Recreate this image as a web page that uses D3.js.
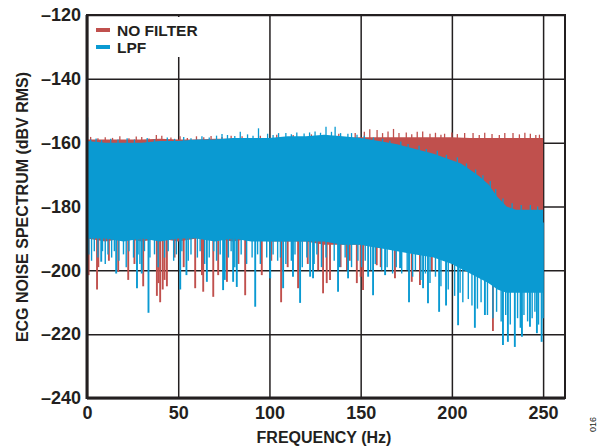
<!DOCTYPE html>
<html>
<head>
<meta charset="utf-8">
<script src="https://cdn.jsdelivr.net/npm/d3@7/dist/d3.min.js"></script>
<style>
  body { margin: 0; background: #fff; }
  text { font-family: "Liberation Sans", Arial, sans-serif; font-weight: bold; fill: #231f20; }
</style>
</head>
<body>
<script>
"use strict"

// frequency ticks and level ticks
const xTicks = [0, 50, 100, 150, 200, 250];
const yTicks = [-120, -140, -160, -180, -200, -220, -240];

// NO FILTER: dense band envelope
const redFreq = [0, 10, 20, 30, 40, 50, 60, 70, 80, 90, 100, 110, 120, 130, 140, 150, 160, 170, 180, 190, 200, 210, 220, 230, 240, 250];
const redTop = [-159, -159, -159, -159, -158.8, -159, -159, -158.8, -158.8, -158.8, -158.5, -158.5, -158.5, -158.5, -158.5, -158.3, -158.3, -158.3, -158.3, -158.3, -158.3, -158.5, -158.5, -158.5, -158.5, -158.5];
const redBottom = [-190, -191, -190, -191, -190, -191, -190, -190, -191, -190, -191, -191, -191, -192, -192, -192, -193, -193, -194, -194, -195, -198, -200, -202, -202, -202];
// NO FILTER: downward spikes [Hz, dBV]
const redSpikes = [[0.9, -201.5], [5.5, -206], [6.2, -199], [17.1, -200.5], [22.6, -203], [30.8, -205], [38.3, -208],
  [40.1, -210], [43.8, -205], [59.3, -205.6], [63, -201.5], [63.7, -206.7], [69.2, -208.3], [71.9, -201.5], [76.7, -203.6],
  [86.7, -207.8], [95.8, -201.5], [106.4, -210], [115.7, -205.6], [126.7, -200], [129.4, -207.2], [131.4, -204], [133.2, -203],
  [147.9, -204], [151.3, -206.2], [158.8, -198.4], [168.8, -202.5], [178, -203.6], [182.5, -204.6], [222.5, -219],
  [12, -197], [26, -198], [48, -196], [53, -199], [83, -198], [101, -197], [110, -199], [121, -198], [139, -199], [144, -197],
  [39.2, -204], [41.5, -206], [42.5, -203], [142.5, -200], [150, -202], [161, -199], [189, -200]];
// NO FILTER: upward tips [Hz, dBV]
const redTips = [[2, -158.2], [6, -158.6], [10, -158.3], [14, -158.5], [18, -158], [23, -158.6], [27, -158.1], [30, -158.2],
  [34, -158.7], [38, -157.6], [41, -157.8], [46, -158.4], [51, -158], [55, -158.5], [60, -158], [64, -158.3], [68, -157.9],
  [74, -158.2], [79, -157.8], [85, -158], [95, -157.8], [104, -157.5], [113, -157.6], [123, -157.4], [138, -157.2], [147, -157],
  [152, -156.6], [155, -155.8], [159, -156], [162, -157], [165, -156.5], [168, -155.7], [171, -157], [175, -156.8], [178, -157.4],
  [181, -156.6], [184, -156.5], [188, -157.2], [191, -156.9], [194, -157.5], [196, -157.2], [200, -156.8], [203, -157.3],
  [207, -157], [211.6, -157], [215, -157.6], [218, -156.9], [222, -157.3], [226, -157.6], [229, -157], [233.5, -157],
  [237, -157.4], [240, -156.9], [243, -157.2], [246, -157.6], [248, -157.5]];

// LPF: dense band envelope
const blueFreq = [0, 10, 20, 30, 40, 50, 60, 70, 80, 90, 100, 110, 120, 130, 140, 150, 160, 170, 180, 190, 195, 200, 205, 210, 215, 220, 225, 230, 235, 240, 245, 250];
const blueTop = [-159.5, -160, -160, -160, -159.5, -159.5, -159, -159, -158.5, -158.5, -158.5, -158, -158, -157.5, -158, -158.5, -159.5, -160.5, -162, -163.5, -164.5, -165.5, -166.5, -168.5, -170.5, -173, -177, -180, -181, -181, -181, -181];
const blueBottom = [-190, -190, -191, -190, -191, -190, -190, -191, -190, -191, -191, -191, -191, -191, -192, -192, -193, -194, -195, -196, -197, -198, -199.5, -201, -202.5, -204, -206, -207, -207, -207, -207, -207];
// LPF: downward spikes (long ones)
const blueSpikes = [[7.8, -197.3], [16, -201], [27.4, -205.6], [30, -201], [33.7, -213.3], [51.1, -206], [54.5, -201.5], [65.7, -203.6],
  [75.5, -203], [74.6, -206.2], [80.1, -203.6], [82.1, -205.2], [92.2, -211.4], [100.4, -202.5], [107.5, -205.6], [112.9, -202],
  [116.8, -210.2], [122.3, -202], [123.9, -202.5], [137.6, -206.7], [143.1, -202.5], [154.1, -202], [156.8, -207.8], [163.4, -201.5],
  [171.6, -199.3], [176.5, -210], [184.2, -205.6], [186.9, -210.3], [193, -213], [196.8, -211], [203.4, -217.2], [212.6, -218],
  [218.1, -214], [228, -223.4], [230.7, -222.4], [234.5, -224], [238.4, -220.8], [242.8, -217.7], [246.6, -219.7], [249.2, -222.4]];
// LPF: short spikes along the ragged lower edge
const blueShort = [[1, -195], [2.5, -197], [4, -194], [6, -196], [8.5, -194], [10, -198], [11.5, -195], [13.5, -196], [15, -194],
  [17.5, -197], [20, -195], [21.5, -199], [23, -194], [25.5, -196], [28, -195], [29, -198], [31.5, -194], [34.5, -196], [37, -195],
  [39, -199], [42.5, -196], [44.5, -194], [47.5, -197], [49, -195], [52, -194], [55.5, -197], [57, -195], [60.5, -196], [62, -194],
  [64.5, -198], [67, -196], [69.5, -194], [71, -197], [73, -195], [77.5, -196], [79, -194], [81, -199], [84.5, -195], [87.5, -198],
  [90.5, -196], [93.5, -195], [95, -198], [98.5, -196], [102, -195], [104.5, -197], [106, -196], [109, -198], [112, -197],
  [114, -195], [118, -199], [120.5, -196], [124.5, -198], [126, -195], [128.5, -199], [131, -196], [135.5, -197], [138.5, -199],
  [141.5, -196], [145, -199], [148.5, -197], [150.5, -199], [152.5, -197], [155.5, -200], [158, -198], [161.5, -200], [164.5, -199],
  [167.5, -201], [169.5, -199], [172.5, -201], [175.5, -200], [178.5, -202], [180, -200], [183, -203], [185.5, -201], [188, -204],
  [191, -202], [194, -205], [198, -206], [201.5, -208], [204.5, -207], [206, -210], [209, -209], [211, -211], [214, -212],
  [216, -210], [219.5, -214], [222.5, -215], [224.5, -213], [227, -216], [229.5, -214], [232, -217], [236, -215], [237.5, -218],
  [239.5, -214], [241.5, -216], [244, -215], [245.5, -213], [247.5, -217], [250, -215]];
// LPF: upward tips along the top edge
const blueTips = [[0.3, -152], [2, -159], [5, -158.7], [8, -159.2], [13, -158.8], [17, -159], [22, -158.6], [26, -159], [33, -158.5],
  [37, -159], [44, -158.4], [48, -158.8], [53, -158.2], [57, -158.6], [63, -158], [67, -158.4], [71, -157.8], [74, -157.3],
  [77, -157.6], [81, -157.9], [84, -156.6], [88, -157.4], [91, -157.8], [94, -155.5], [99, -157.2], [102, -157.6], [105, -157],
  [109, -157], [112, -157.4], [115, -156.8], [119, -157.1], [122, -156.8], [125, -156.5], [128, -156.9], [131, -155], [134, -156.6],
  [136, -155], [139, -157], [143, -157.2], [145, -157], [148, -157.5], [152, -157.8], [157, -158.4], [162, -158.8], [166, -159.4],
  [172, -159.6], [176, -160.4], [182, -161], [186, -162], [192, -162.5], [197, -163.8], [203, -164.6], [208, -166.5],
  [213, -168.4], [217, -170.2], [221, -172], [224, -174.5], [228, -177.5], [233, -179], [238, -179.5], [243, -179.5], [247, -180]];

const series = [
  { name: 'NO FILTER', color: '#c0504d', freq: redFreq, top: redTop, bottom: redBottom, spikes: redSpikes, short: [], tips: redTips },
  { name: 'LPF', color: '#0a9ad2', freq: blueFreq, top: blueTop, bottom: blueBottom, spikes: blueSpikes, short: blueShort, tips: blueTips }
];

const w = 603, h = 446;
const padL = 87, padR = 565, padT = 15, padB = 398;

const svg = d3.select('body').append('svg')
  .attr('width', w)
  .attr('height', h);

const xScale = d3.scaleLinear().domain([0, 262]).range([padL, padR]);
const yScale = d3.scaleLinear().domain([-240, -120]).range([padB, padT]);

svg.append('clipPath').attr('id', 'plot')
  .append('rect').attr('x', padL).attr('y', padT).attr('width', padR - padL).attr('height', padB - padT);

// grid
const xGrid = d3.axisBottom(xScale).tickValues(xTicks).tickSize(-(padB - padT)).tickFormat('');
const yGrid = d3.axisLeft(yScale).tickValues(yTicks).tickSize(-(padR - padL)).tickFormat('');
svg.append('g').attr('transform', 'translate(0,' + padB + ')').call(xGrid)
  .call(g => g.select('.domain').remove())
  .selectAll('line').attr('stroke', '#231f20').attr('stroke-width', 1.5);
svg.append('g').attr('transform', 'translate(' + padL + ',0)').call(yGrid)
  .call(g => g.select('.domain').remove())
  .selectAll('line').attr('stroke', '#231f20').attr('stroke-width', 1.5);

const plot = svg.append('g').attr('clip-path', 'url(#plot)');

series.forEach(s => {
  const band = s.freq.map((f, i) => ({ f: f, t: s.top[i], b: s.bottom[i] }));
  const area = d3.area()
    .x(d => xScale(d.f))
    .y0(d => yScale(d.b))
    .y1(d => yScale(d.t));
  const g = plot.append('g');
  const vline = (data, width) => g.selectAll(null)
    .data(data)
    .enter()
    .append('line')
    .attr('x1', d => xScale(d[0]))
    .attr('x2', d => xScale(d[0]))
    .attr('y1', d => yScale(d[1] > -170 ? d[1] - 4 : -185))
    .attr('y2', d => yScale(d[1]))
    .attr('stroke', s.color)
    .attr('stroke-width', width);
  vline(s.spikes, 1.9);
  vline(s.short, 1.4);
  vline(s.tips, 1.3);
  g.append('path')
    .datum(band)
    .attr('d', area)
    .attr('fill', s.color);
});

// frame
svg.append('rect')
  .attr('x', padL).attr('y', padT)
  .attr('width', padR - padL).attr('height', padB - padT)
  .attr('fill', 'none')
  .attr('stroke', '#231f20')
  .attr('stroke-width', 2);
svg.append('line').attr('x1', padL).attr('x2', padL).attr('y1', padT).attr('y2', padB + 1)
  .attr('stroke', '#231f20').attr('stroke-width', 3);
svg.append('line').attr('x1', padL).attr('x2', padR).attr('y1', padB).attr('y2', padB)
  .attr('stroke', '#231f20').attr('stroke-width', 3);

// tick labels
const xAxis = d3.axisBottom(xScale).tickValues(xTicks).tickSize(0).tickPadding(8);
const yAxis = d3.axisLeft(yScale).tickValues(yTicks).tickSize(0).tickPadding(6)
  .tickFormat(d => String(d).replace('-', '\u2013'));
svg.append('g').attr('id', 'x-axis').attr('transform', 'translate(0,' + padB + ')').call(xAxis)
  .call(g => g.select('.domain').remove())
  .selectAll('text').style('font-size', '18px').style('font-family', '"Liberation Sans", Arial, sans-serif')
  .style('font-weight', 'bold').attr('fill', '#231f20');
svg.append('g').attr('id', 'y-axis').attr('transform', 'translate(' + padL + ',0)').call(yAxis)
  .call(g => g.select('.domain').remove())
  .selectAll('text').style('font-size', '18px').style('font-family', '"Liberation Sans", Arial, sans-serif')
  .style('font-weight', 'bold').attr('fill', '#231f20');

// axis titles
svg.append('text')
  .attr('x', (padL + padR) / 2 - 2).attr('y', 443)
  .attr('text-anchor', 'middle')
  .style('font-size', '16px')
  .text('FREQUENCY (Hz)');
svg.append('text')
  .attr('transform', 'translate(28,' + 207 + ') rotate(-90)')
  .attr('text-anchor', 'middle')
  .style('font-size', '16px')
  .text('ECG NOISE SPECTRUM (dBV RMS)');

// legend
const legend = svg.append('g').attr('id', 'legend');
legend.append('rect')
  .attr('x', padL + 2).attr('y', padT + 2).attr('width', 140).attr('height', 40)
  .attr('fill', '#fff');
legend.selectAll('line')
  .data(series)
  .enter()
  .append('line')
  .attr('x1', 96).attr('x2', 110)
  .attr('y1', (d, i) => 30 + i * 17).attr('y2', (d, i) => 30 + i * 17)
  .attr('stroke', d => d.color)
  .attr('stroke-width', 4);
legend.selectAll('text')
  .data(series)
  .enter()
  .append('text')
  .attr('x', 117)
  .attr('y', (d, i) => 36 + i * 17)
  .style('font-size', '15.5px')
  .text(d => d.name);

svg.append('text')
  .attr('transform', 'translate(596,432) rotate(-90)')
  .style('font-size', '9px')
  .style('font-weight', 'normal')
  .attr('fill', '#555')
  .text('016');
</script>
</body>
</html>
